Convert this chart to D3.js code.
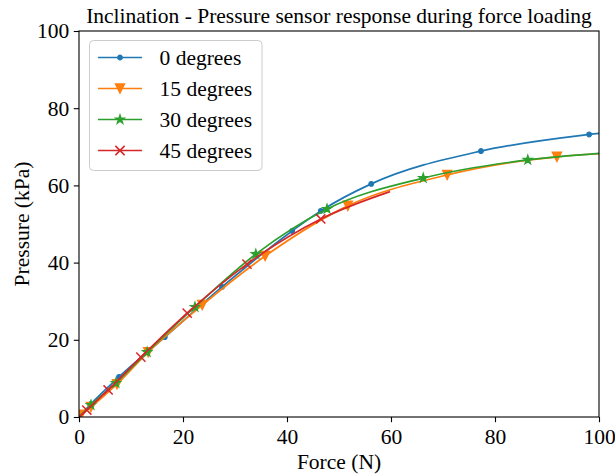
<!DOCTYPE html>
<html><head><meta charset="utf-8">
<script src="https://cdn.jsdelivr.net/npm/d3@7"></script>
<style>body{margin:0;background:#fff}svg{display:block}text{font-family:"Liberation Serif","Times New Roman",serif;fill:#000}</style>
</head><body>
<svg id="c" width="615" height="476"></svg>
<script>
// ---- data ----
const xTicks = [0, 20, 40, 60, 80, 100];
const yTicks = [0, 20, 40, 60, 80, 100];
const seriesNames = ["0 degrees", "15 degrees", "30 degrees", "45 degrees"];
const seriesColors = ["#1f77b4", "#ff7f0e", "#2ca02c", "#d62728"];
const seriesMarkers = ["point", "triangleDown", "star", "x"];

const force0 = [0, 2.3, 7.7, 16.5, 27.5, 41.0, 46.5, 56.2, 77.3, 98.1, 100];
const pressure0 = [0, 3.4, 10.4, 20.7, 33.7, 48.2, 53.4, 60.4, 68.9, 73.2, 73.5];
const marked0 = [1, 2, 3, 4, 5, 6, 7, 8, 9];

const force15 = [0.4, 2.3, 7.3, 13.3, 23.7, 35.8, 51.7, 70.8, 91.9, 100];
const pressure15 = [0.6, 2.6, 8.5, 16.8, 29.0, 41.7, 54.7, 62.7, 67.4, 68.2];
const marked15 = [0, 1, 2, 3, 4, 5, 6, 7, 8];

const force30 = [0, 2.3, 7.1, 13.1, 22.3, 34.0, 47.7, 66.2, 86.3, 100];
const pressure30 = [0, 3.1, 8.8, 16.8, 28.5, 42.2, 53.9, 61.9, 66.6, 68.3];
const marked30 = [1, 2, 3, 4, 5, 6, 7, 8];

const force45 = [0, 1.5, 5.6, 11.9, 20.8, 32.3, 46.5, 59.8];
const pressure45 = [0, 1.8, 7.0, 15.5, 26.9, 39.6, 51.3, 58.4];
const marked45 = [1, 2, 3, 4, 5, 6];

const titleText = "Inclination - Pressure sensor response during force loading";
const xLabel = "Force (N)";
const yLabel = "Pressure (kPa)";

// ---- chart ----
const svg = d3.select("#c");
const L = 79, R = 599, T = 31, B = 417;
const x = d3.scaleLinear().domain([0, 100]).range([L, R]);
const y = d3.scaleLinear().domain([0, 100]).range([B, T]);
const FS = 21.5;

const series = [
  {f: force0, p: pressure0, m: marked0},
  {f: force15, p: pressure15, m: marked15},
  {f: force30, p: pressure30, m: marked30},
  {f: force45, p: pressure45, m: marked45}
].map((s, i) => ({
  name: seriesNames[i], color: seriesColors[i], marker: seriesMarkers[i],
  pts: s.f.map((v, j) => ({x: v, y: s.p[j]})), marked: s.m
}));

svg.append("defs").append("clipPath").attr("id", "clip")
  .append("rect").attr("x", L).attr("y", T).attr("width", R - L).attr("height", B - T);

const r = 4.6;
function markerPath(type) {
  if (type === "point") return d3.symbol(d3.symbolCircle, Math.PI * 2.3 * 2.3)();
  if (type === "triangleDown") return `M0,${r}L${-r},${-r}L${r},${-r}Z`;
  if (type === "star") {
    let p = "";
    for (let k = 0; k < 10; k++) {
      const rr = k % 2 === 0 ? r : r * 0.381966;
      const a = -Math.PI / 2 + k * Math.PI / 5;
      p += (k === 0 ? "M" : "L") + (rr * Math.cos(a)).toFixed(3) + "," + (rr * Math.sin(a)).toFixed(3);
    }
    return p + "Z";
  }
  if (type === "x") return `M${-r},${-r}L${r},${r}M${-r},${r}L${r},${-r}`;
}
function drawMarker(g, type, color, cx, cy) {
  const pth = g.append("path").attr("d", markerPath(type)).attr("transform", `translate(${cx},${cy})`);
  if (type === "x") pth.attr("fill", "none").attr("stroke", color).attr("stroke-width", 1.5);
  else pth.attr("fill", color).attr("stroke", color).attr("stroke-width", 1.3).attr("stroke-linejoin", "miter");
}

const plot = svg.append("g").attr("clip-path", "url(#clip)");
const line = d3.line().x(d => x(d.x)).y(d => y(d.y)).curve(d3.curveMonotoneX);
series.forEach(s => {
  const g = plot.append("g");
  g.append("path").attr("d", line(s.pts)).attr("fill", "none").attr("stroke", s.color).attr("stroke-width", 1.7);
  s.marked.forEach(j => drawMarker(g, s.marker, s.color, x(s.pts[j].x), y(s.pts[j].y)));
});

// axes
const xAxis = svg.append("g").attr("transform", `translate(0,${B})`)
  .call(d3.axisBottom(x).tickValues(xTicks).tickSize(5.2).tickPadding(4.5).tickFormat(d3.format("d")));
const yAxis = svg.append("g").attr("transform", `translate(${L},0)`)
  .call(d3.axisLeft(y).tickValues(yTicks).tickSize(5.2).tickPadding(4.5).tickFormat(d3.format("d")));
[xAxis, yAxis].forEach(a => {
  a.select(".domain").remove();
  a.selectAll("line").attr("stroke", "#000").attr("stroke-width", 1.1);
  a.selectAll("text").attr("font-size", FS).attr("font-family", "Liberation Serif, serif").attr("fill", "#000");
});
xAxis.selectAll("text").attr("dy", "0.8em");
// frame
svg.append("rect").attr("x", L).attr("y", T).attr("width", R - L).attr("height", B - T)
  .attr("fill", "none").attr("stroke", "#000").attr("stroke-width", 1.1);

// titles
svg.append("text").attr("x", (L + R) / 2).attr("y", 23).attr("text-anchor", "middle").attr("font-size", FS).text(titleText);
svg.append("text").attr("x", (L + R) / 2).attr("y", 469).attr("text-anchor", "middle").attr("font-size", FS).text(xLabel);
svg.append("text").attr("transform", `translate(29,224) rotate(-90)`).attr("text-anchor", "middle").attr("font-size", FS).text(yLabel);

// legend
const lg = svg.append("g");
lg.append("rect").attr("x", 89.5).attr("y", 40.5).attr("width", 172.5).attr("height", 130).attr("rx", 4)
  .attr("fill", "#fff").attr("fill-opacity", 0.8).attr("stroke", "#ccc").attr("stroke-width", 1);
series.forEach((s, i) => {
  const cy = 57.5 + i * 31;
  lg.append("line").attr("x1", 98).attr("x2", 142).attr("y1", cy).attr("y2", cy).attr("stroke", s.color).attr("stroke-width", 1.7);
  drawMarker(lg, s.marker, s.color, 120, cy);
  lg.append("text").attr("x", 159.5).attr("y", cy + 7).attr("font-size", FS).text(s.name);
});
</script>
</body></html>
